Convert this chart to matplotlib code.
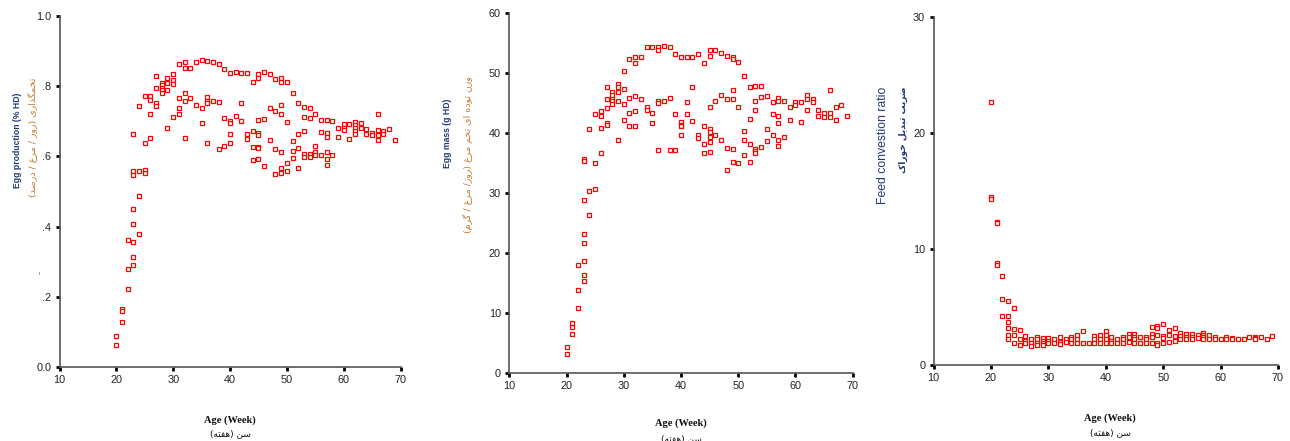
import matplotlib
matplotlib.use("Agg")
import matplotlib.pyplot as plt

# ---------------- data ----------------
weeks = [20, 21, 22, 23, 24, 25, 26, 27, 28, 29, 30, 31, 32, 33, 34, 35, 36, 37, 38, 39,
         40, 41, 42, 43, 44, 45, 46, 47, 48, 49, 50, 51, 52, 53, 54, 55, 56, 57, 58, 59,
         60, 61, 62, 63, 64, 65, 66, 67, 68, 69]

egg_production = [
    [0.088, 0.062], [0.164, 0.160, 0.127], [0.361, 0.280, 0.221],
    [0.663, 0.558, 0.547, 0.450, 0.407, 0.355, 0.312, 0.290],
    [0.743, 0.558, 0.487, 0.380], [0.773, 0.637, 0.561, 0.553],
    [0.773, 0.762, 0.722, 0.653], [0.829, 0.796, 0.753, 0.743],
    [0.810, 0.803, 0.796, 0.789, 0.782], [0.822, 0.808, 0.789, 0.680],
    [0.834, 0.819, 0.806, 0.713], [0.862, 0.765, 0.739, 0.721],
    [0.870, 0.853, 0.782, 0.758, 0.653], [0.851, 0.767], [0.869, 0.746],
    [0.875, 0.739, 0.696], [0.873, 0.770, 0.758, 0.751, 0.637], [0.868, 0.758],
    [0.862, 0.756, 0.620], [0.849, 0.710, 0.629],
    [0.838, 0.701, 0.694, 0.663, 0.637], [0.841, 0.716], [0.839, 0.753, 0.701],
    [0.837, 0.663, 0.649], [0.813, 0.673, 0.627, 0.589],
    [0.834, 0.822, 0.703, 0.667, 0.661, 0.627, 0.623, 0.594],
    [0.840, 0.706, 0.573], [0.834, 0.739, 0.646], [0.820, 0.730, 0.620, 0.549],
    [0.822, 0.813, 0.746, 0.722, 0.613, 0.566, 0.554],
    [0.813, 0.699, 0.582, 0.559], [0.782, 0.644, 0.615, 0.596],
    [0.753, 0.663, 0.623, 0.567], [0.741, 0.713, 0.672, 0.606, 0.597],
    [0.739, 0.708, 0.606, 0.597], [0.722, 0.629, 0.613, 0.604],
    [0.705, 0.670, 0.604], [0.705, 0.667, 0.656, 0.613, 0.594, 0.575],
    [0.702, 0.604], [0.682, 0.656], [0.692, 0.682, 0.675], [0.692, 0.649],
    [0.699, 0.689, 0.682, 0.673, 0.663], [0.694, 0.682], [0.677, 0.663],
    [0.667, 0.661], [0.720, 0.675, 0.661, 0.646], [0.673, 0.665], [0.677], [0.646],
]

egg_mass = [
    [4.33, 3.22], [8.33, 7.67, 6.44], [18.06, 13.89, 10.83],
    [35.7, 35.4, 28.9, 23.2, 21.6, 18.6, 16.4, 15.4],
    [40.6, 30.3, 26.3], [43.1, 35.0, 30.6], [43.7, 42.8, 40.9, 36.7],
    [47.7, 45.6, 44.2, 41.7, 41.4], [46.8, 46.3, 45.7, 45.3, 44.8],
    [48.2, 47.6, 46.9, 45.3, 38.9], [50.3, 47.4, 44.9, 42.2],
    [52.4, 45.8, 43.4, 41.1], [52.7, 51.7, 46.1, 43.6, 41.1], [52.7, 45.6],
    [54.3, 44.4, 43.9], [54.3, 43.3, 41.6], [54.3, 53.9, 45.3, 45.0, 37.1],
    [54.5, 45.3], [54.3, 45.8, 37.2], [53.2, 43.2, 37.1],
    [52.7, 41.9, 41.4, 41.1, 39.7], [52.7, 45.2, 43.1], [52.7, 47.7, 42.0],
    [53.1, 39.7, 39.2], [51.7, 41.1, 38.2, 36.7],
    [53.8, 52.8, 44.4, 40.7, 40.2, 39.3, 38.5, 36.8], [53.9, 45.3, 39.7],
    [53.3, 46.4, 38.9], [52.9, 45.6, 37.5, 33.8],
    [52.7, 52.4, 47.1, 45.6, 37.4, 35.2], [51.8, 44.3, 35.0],
    [49.5, 40.3, 38.8, 36.4], [47.7, 42.4, 38.1, 35.2],
    [47.9, 45.4, 43.9, 37.4, 37.0, 36.6], [47.9, 46.0, 37.6], [46.2, 40.6, 38.6],
    [45.2, 43.1, 39.6], [45.8, 45.4, 42.9, 41.7, 38.9, 37.9], [45.4, 39.3],
    [44.3, 42.1], [45.2, 44.6], [45.2, 41.9], [46.4, 45.6, 43.9], [45.7, 45.1],
    [43.9, 42.9], [43.3, 42.6], [47.1, 43.3, 42.6], [44.3, 42.1], [44.7], [42.9],
]

feed_conversion = [
    [22.67, 14.45, 14.3], [12.3, 12.2, 8.8, 8.6], [7.7, 5.7, 4.25],
    [5.5, 4.25, 3.7, 3.2, 2.6, 2.2], [4.9, 3.1, 2.6, 1.9], [3.0, 2.2, 1.7],
    [2.5, 2.1, 1.9], [2.2, 1.9, 1.6], [2.4, 2.2, 1.9, 1.7], [2.3, 2.1, 1.9, 1.7],
    [2.3, 2.1, 1.9], [2.2, 1.9], [2.4, 2.0, 1.8], [2.2, 2.0], [2.4, 2.2, 1.9],
    [2.6, 2.2, 1.9], [2.9, 1.9], [1.9], [2.5, 2.2, 1.9], [2.6, 2.2, 1.9],
    [2.9, 2.6, 2.2, 1.9], [2.4, 2.1, 1.9], [2.2, 1.9], [2.4, 2.2, 1.9],
    [2.7, 2.4, 2.0], [2.7, 2.4, 2.2, 1.9], [2.4, 1.9], [2.4, 2.2, 1.9],
    [3.3, 2.7, 2.4, 1.9], [3.4, 3.2, 2.6, 1.9, 1.7], [3.5, 2.5, 2.3, 1.9],
    [3.0, 2.6, 2.0], [3.2, 2.5, 2.1], [2.8, 2.5, 2.2], [2.7, 2.4, 2.2],
    [2.7, 2.4, 2.2], [2.6, 2.3], [2.8, 2.6, 2.4, 2.2], [2.6, 2.2], [2.4, 2.2],
    [2.2], [2.4, 2.2], [2.3, 2.2], [2.2], [2.2], [2.4], [2.4, 2.3, 2.2], [2.4],
    [2.2], [2.5],
]

x_ticks = [10, 20, 30, 40, 50, 60, 70]
ep_ticks = [0.0, 0.2, 0.4, 0.6, 0.8, 1.0]
ep_tick_labels = ["0.0", ".2", ".4", ".6", ".8", "1.0"]
em_ticks = [0, 10, 20, 30, 40, 50, 60]
fcr_ticks = [0, 10, 20, 30]

# ---------------- Persian shaping (presentation forms) ----------------
FORMS = {
    'ا': ('\uFE8D', '\uFE8E', None, None),
    'ب': ('\uFE8F', '\uFE90', '\uFE91', '\uFE92'),
    'ت': ('\uFE95', '\uFE96', '\uFE97', '\uFE98'),
    'خ': ('\uFEA5', '\uFEA6', '\uFEA7', '\uFEA8'),
    'د': ('\uFEA9', '\uFEAA', None, None),
    'ذ': ('\uFEAB', '\uFEAC', None, None),
    'ر': ('\uFEAD', '\uFEAE', None, None),
    'ز': ('\uFEAF', '\uFEB0', None, None),
    'س': ('\uFEB1', '\uFEB2', '\uFEB3', '\uFEB4'),
    'ص': ('\uFEB9', '\uFEBA', '\uFEBB', '\uFEBC'),
    'ض': ('\uFEBD', '\uFEBE', '\uFEBF', '\uFEC0'),
    'غ': ('\uFECD', '\uFECE', '\uFECF', '\uFED0'),
    'ف': ('\uFED1', '\uFED2', '\uFED3', '\uFED4'),
    'ک': ('\uFB8E', '\uFB8F', '\uFB90', '\uFB91'),
    'گ': ('\uFB92', '\uFB93', '\uFB94', '\uFB95'),
    'ل': ('\uFEDD', '\uFEDE', '\uFEDF', '\uFEE0'),
    'م': ('\uFEE1', '\uFEE2', '\uFEE3', '\uFEE4'),
    'ن': ('\uFEE5', '\uFEE6', '\uFEE7', '\uFEE8'),
    'ه': ('\uFEE9', '\uFEEA', '\uFEEB', '\uFEEC'),
    'و': ('\uFEED', '\uFEEE', None, None),
    'ی': ('\uFBFC', '\uFBFD', '\uFBFE', '\uFBFF'),
}


def shape_fa(s):
    out = []
    n = len(s)
    for i, c in enumerate(s):
        if c not in FORMS:
            out.append(c)
            continue
        prev = s[i - 1] if i > 0 else None
        nxt = s[i + 1] if i < n - 1 else None
        jp = prev in FORMS and FORMS[prev][2] is not None
        jn = FORMS[c][2] is not None and nxt in FORMS
        iso, fin, ini, med = FORMS[c]
        if jp and jn:
            out.append(med)
        elif jp:
            out.append(fin)
        elif jn:
            out.append(ini)
        else:
            out.append(iso)
    vis = ''.join(reversed(out))
    return vis.translate(str.maketrans({'(': ')', ')': '('}))


# ---------------- figure ----------------
W, H = 1290, 441
fig = plt.figure(figsize=(W / 100, H / 100), dpi=100)

TICK_FONT = ['Liberation Sans Narrow', 'Liberation Sans', 'DejaVu Sans']
FA_FONT = ['DejaVu Sans']
BLUE = '#1F3A78'
ORANGE = '#C0782E'


def px_axes(l, r, b, t):
    return fig.add_axes([l / W, 1 - b / H, (r - l) / W, (b - t) / H])


def style(ax, ylim, yticks, ylabels=None):
    ax.set_xlim(10, 70)
    ax.set_ylim(*ylim)
    ax.set_xticks(x_ticks)
    ax.set_yticks(yticks)
    if ylabels is not None:
        ax.set_yticklabels(ylabels)
    for sp in ('top', 'right'):
        ax.spines[sp].set_visible(False)
    for sp in ('left', 'bottom'):
        ax.spines[sp].set_color('#555555')
        ax.spines[sp].set_linewidth(1.2)
    ax.tick_params(direction='out', length=3, width=2, color='black',
                   labelsize=7.8, labelcolor='#222222', pad=3)
    for lab in ax.get_xticklabels() + ax.get_yticklabels():
        lab.set_family(TICK_FONT)
    ax.patch.set_alpha(0)


def scatter(ax, data):
    xs, ys = [], []
    for w, vals in zip(weeks, data):
        for v in vals:
            xs.append(w)
            ys.append(v)
    ax.plot(xs, ys, linestyle='none', marker='s', ms=3.4, mew=0.9,
            mec='#FF0000', mfc='white', clip_on=False)


ax1 = px_axes(59.5, 400.5, 367, 16)
scatter(ax1, egg_production)
style(ax1, (0, 1.0), ep_ticks, ep_tick_labels)

ax2 = px_axes(509.3, 852.7, 373, 13)
scatter(ax2, egg_mass)
style(ax2, (0, 60), em_ticks)

ax3 = px_axes(933.5, 1278, 365, 17)
scatter(ax3, feed_conversion)
style(ax3, (0, 30), fcr_ticks)


def ftext(x, y, s, **kw):
    fig.text(x / W, 1 - y / H, s, ha='center', va='center', **kw)


# y labels
ftext(18, 140, 'Egg production (% HD)', rotation=90, fontsize=6.2,
      fontweight='bold', color=BLUE, family=['Liberation Sans', 'DejaVu Sans'])
ftext(32, 137, shape_fa('تخمگذاری (روز / مرغ / درصد)'), rotation=90,
      fontsize=6.8, color=ORANGE, family=FA_FONT)
ftext(40, 272, '-', rotation=90, fontsize=6, color='#555555')

ftext(448, 133, 'Egg mass (g HD)', rotation=90, fontsize=6.2,
      fontweight='bold', color=BLUE, family=['Liberation Sans', 'DejaVu Sans'])
ftext(468, 155, shape_fa('وزن توده ای تخم مرغ (روز/ مرغ / گرم)'), rotation=90,
      fontsize=6.8, color=ORANGE, family=FA_FONT)

ftext(883, 145, 'Feed convestion ratio', rotation=90, fontsize=8.8,
      color=BLUE, family=['Liberation Sans', 'DejaVu Sans'])
ftext(903, 130, shape_fa('ضریب تبدیل خوراک'), rotation=90,
      fontsize=6.5, fontweight='bold', color=BLUE, family=FA_FONT)

# x labels
for cx, y1, y2 in ((230, 420, 434), (681, 423, 439), (1110, 418, 433)):
    ftext(cx, y1, 'Age (Week)', fontsize=7.5, fontweight='bold', color='#111111',
          family=['Liberation Serif', 'DejaVu Serif'])
    ftext(cx, y2, shape_fa('سن (هفته)'), fontsize=6.5, color='#111111',
          family=FA_FONT)

fig.savefig('out.png', dpi=100)
